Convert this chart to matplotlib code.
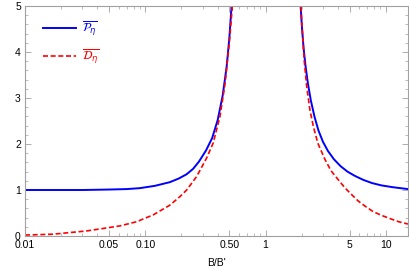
import numpy as np
import matplotlib.pyplot as plt
from matplotlib.ticker import FixedLocator, NullFormatter

# values
p_left_x = [0.01, 0.03, 0.05, 0.07, 0.09, 0.12, 0.16, 0.19, 0.22, 0.25,
            0.28, 0.32, 0.36, 0.40, 0.44, 0.475, 0.50, 0.522, 0.535]
p_left_y = [1.00, 1.00, 1.01, 1.02, 1.04, 1.09, 1.17, 1.25, 1.34, 1.46,
            1.62, 1.86, 2.13, 2.52, 3.05, 3.68, 4.30, 5.00, 5.60]
p_right_x = [1.93, 1.958, 2.0, 2.07, 2.15, 2.25, 2.38, 2.55, 2.75, 3.0,
             3.3, 3.7, 4.2, 4.8, 5.5, 6.5, 7.7, 9.2, 11.5, 15.3]
p_right_y = [5.60, 5.00, 4.60, 4.10, 3.70, 3.32, 2.95, 2.60, 2.30, 2.05,
             1.85, 1.67, 1.52, 1.40, 1.31, 1.22, 1.15, 1.10, 1.06, 1.02]

d_left_x = [0.01, 0.0172, 0.0326, 0.0617, 0.0847, 0.1166, 0.16, 0.194,
            0.221, 0.267, 0.323, 0.367, 0.418, 0.46, 0.50, 0.53, 0.54]
d_left_y = [0.02, 0.04, 0.11, 0.22, 0.31, 0.46, 0.67, 0.855,
            1.00, 1.29, 1.69, 2.02, 2.60, 3.30, 4.20, 5.00, 5.50]
d_right_x = [1.94, 1.97, 2.03, 2.10, 2.2, 2.34, 2.5, 2.72, 3.1, 3.5,
             4.15, 4.6, 5.2, 5.9, 6.8, 7.85, 9.2, 10.8, 12.8, 15.3]
d_right_y = [5.50, 5.00, 4.40, 3.80, 3.25, 2.74, 2.38, 2.02, 1.68, 1.42,
             1.18, 1.04, 0.90, 0.76, 0.64, 0.53, 0.45, 0.38, 0.31, 0.26]

x_ticks = [0.01, 0.05, 0.10, 0.50, 1, 5, 10]
x_tick_labels = ['0.01', '0.05', '0.10', '0.50', '1', '5', '10']
y_ticks = [0, 1, 2, 3, 4, 5]

plt.rcParams['font.family'] = ['Liberation Sans', 'DejaVu Sans']
plt.rcParams['mathtext.fontset'] = 'dejavusans'

fig = plt.figure(figsize=(4.09, 2.69), dpi=100)
ax = fig.add_axes([25 / 409, 33 / 269, 383 / 409, 230 / 269])

blue = '#0000ff'
red = '#ff0000'
ax.plot(p_left_x, p_left_y, color=blue, lw=1.4,
        label=r'$\overline{\mathcal{P}_\eta}$')
ax.plot(p_right_x, p_right_y, color=blue, lw=1.4)
ax.plot(d_left_x, d_left_y, color=red, lw=1.2, ls=(0, (3, 1.6)),
        label=r'$\overline{\mathcal{D}_\eta}$')
ax.plot(d_right_x, d_right_y, color=red, lw=1.2, ls=(0, (3, 1.6)))

ax.set_xscale('log')
ax.set_xlim(0.01, 15.3)
ax.set_ylim(0, 5)

# ticks, Mathematica style
minor = [m * 10.0 ** e for e in range(-2, 2) for m in range(1, 10)]
ax.xaxis.set_major_locator(FixedLocator(x_ticks))
ax.xaxis.set_minor_locator(FixedLocator(minor))
ax.xaxis.set_minor_formatter(NullFormatter())
ax.set_xticklabels(x_tick_labels)
ax.set_yticks(y_ticks)
ax.yaxis.set_minor_locator(FixedLocator(np.arange(0, 5.01, 0.2)))

gray = '#a0a0a0'
for s in ax.spines.values():
    s.set_color(gray)
    s.set_linewidth(0.8)
ax.tick_params(which='both', direction='in', top=True, right=True,
               color=gray, labelsize=7.5)
ax.tick_params(axis='x', pad=3)
ax.tick_params(axis='y', pad=3)
ax.tick_params(which='major', length=4, width=0.6)
ax.tick_params(which='minor', length=2, width=0.5)

ax.set_xlabel("B/B'", fontsize=7.5, labelpad=6)

ax.legend(loc='upper left', bbox_to_anchor=(0.035, 0.96), frameon=False,
          handlelength=2.8, handletextpad=0.5, labelspacing=0.75,
          fontsize=8.5, labelcolor='linecolor', borderaxespad=0)

fig.savefig('out.png', dpi=100)
